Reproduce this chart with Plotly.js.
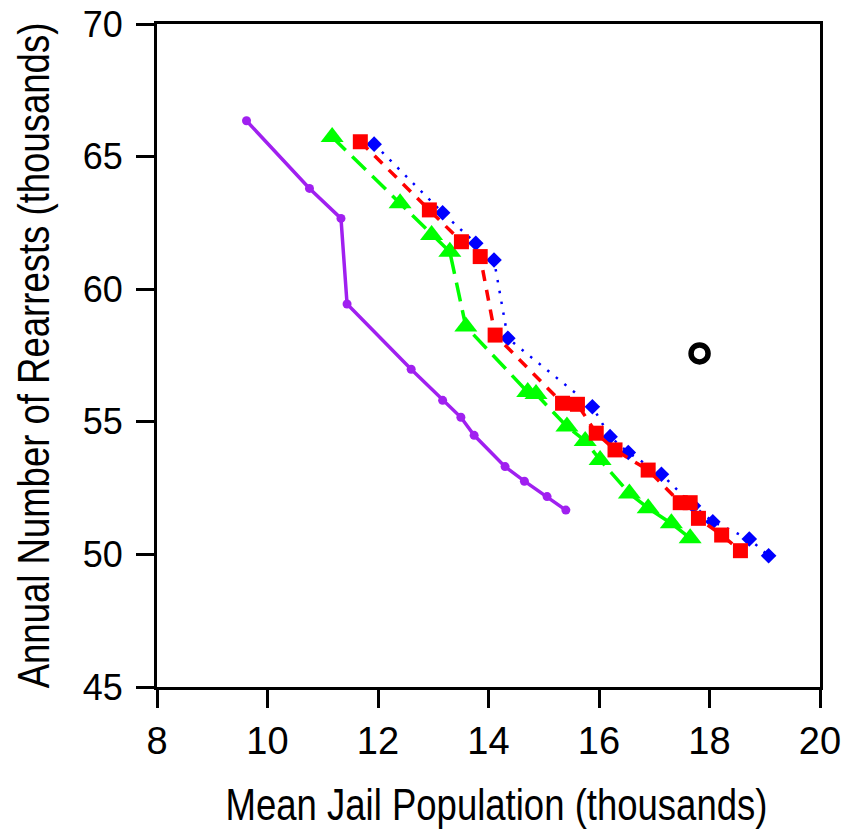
<!DOCTYPE html>
<html>
<head>
<meta charset="utf-8">
<script src="https://cdn.plot.ly/plotly-3.0.1.min.js"></script>
<style>html,body{margin:0;padding:0;background:#fff;}</style>
</head>
<body>
<div id="chart" style="width:844px;height:829px;"></div>
<script>
// Purple series (solid, circles)
const purpleX = [9.62, 10.76, 11.33, 11.44, 12.60, 13.17, 13.50, 13.74, 14.30, 14.65, 15.06, 15.40];
const purpleY = [66.35, 63.80, 62.67, 59.44, 56.98, 55.81, 55.17, 54.49, 53.31, 52.76, 52.18, 51.67];

// Green series (long dash, triangles)
const greenX = [11.17, 12.40, 12.97, 13.30, 13.59, 14.71, 14.86, 15.42, 15.75, 16.02, 16.55, 16.89, 17.31, 17.65];
const greenY = [65.74, 63.24, 62.04, 61.41, 58.59, 56.12, 56.05, 54.82, 54.28, 53.56, 52.30, 51.74, 51.17, 50.61];

// Red series (short dash, squares)
const redX = [11.68, 12.93, 13.51, 13.85, 14.12, 15.34, 15.61, 15.95, 16.29, 16.89, 17.47, 17.65, 17.80, 18.22, 18.56];
const redY = [65.56, 62.99, 61.79, 61.23, 58.27, 55.70, 55.66, 54.57, 53.94, 53.18, 51.95, 51.95, 51.36, 50.73, 50.14];

// Blue series (dotted, diamonds)
const blueX = [11.93, 13.17, 13.77, 14.10, 14.35, 15.88, 16.20, 16.53, 17.13, 17.71, 18.06, 18.72, 19.07];
const blueY = [65.47, 62.88, 61.73, 61.10, 58.15, 55.57, 54.44, 53.84, 53.02, 51.83, 51.23, 50.58, 49.95];

// Single open point
const pointX = [17.82];
const pointY = [57.58];

const xTicks = [8, 10, 12, 14, 16, 18, 20];
const yTicks = [45, 50, 55, 60, 65, 70];

const traces = [
  {x: purpleX, y: purpleY, mode: 'lines+markers', type: 'scatter',
   line: {color: '#a020f0', width: 3.5},
   marker: {symbol: 'circle', size: 9, color: '#a020f0'}},
  {x: greenX, y: greenY, mode: 'lines+markers', type: 'scatter',
   line: {color: '#00ff00', width: 3.5, dash: '19px,9px'},
   marker: {symbol: 'triangle-up', size: 20, color: '#00ff00'}},
  {x: blueX, y: blueY, mode: 'lines+markers', type: 'scatter',
   line: {color: '#0000ff', width: 2.5, dash: '2.5px,8.5px'},
   marker: {symbol: 'diamond', size: 12, color: '#0000ff'}},
  {x: redX, y: redY, mode: 'lines+markers', type: 'scatter',
   line: {color: '#ff0000', width: 3.5, dash: '11px,9px'},
   marker: {symbol: 'square', size: 15, color: '#ff0000'}},
  {x: pointX, y: pointY, mode: 'markers', type: 'scatter',
   marker: {symbol: 'circle-open', size: 17, color: '#000000', line: {width: 5.5, color: '#000000'}}}
];

const layout = {
  width: 844, height: 829,
  margin: {l: 157, r: 24, t: 24, b: 142},
  paper_bgcolor: '#ffffff', plot_bgcolor: '#ffffff',
  showlegend: false,
  xaxis: {
    range: [8, 20], tickvals: xTicks, ticktext: xTicks.map(String),
    showgrid: false, zeroline: false,
    showline: true, linecolor: '#000', linewidth: 3, mirror: true,
    ticks: 'outside', ticklen: 18, tickwidth: 3, tickcolor: '#000',
    tickfont: {family: 'Liberation Sans, Arial, sans-serif', size: 38, color: '#000'},
    title: {text: 'Mean Jail Population (thousands)', standoff: 30,
            font: {family: 'Liberation Sans Narrow, Arial Narrow, Liberation Sans, sans-serif', size: 44, color: '#000'}}
  },
  yaxis: {
    range: [45, 70], tickvals: yTicks, ticktext: yTicks.map(String),
    showgrid: false, zeroline: false,
    showline: true, linecolor: '#000', linewidth: 3, mirror: true,
    ticks: 'outside', ticklen: 18, tickwidth: 3, tickcolor: '#000',
    ticklabelstandoff: 6,
    tickfont: {family: 'Liberation Sans, Arial, sans-serif', size: 36, color: '#000'},
    title: {text: 'Annual Number of Rearrests (thousands)', standoff: 4,
            font: {family: 'Liberation Sans Narrow, Arial Narrow, Liberation Sans, sans-serif', size: 44, color: '#000'}}
  }
};

// Condense the axis titles horizontally (narrow face is not installed)
function condense(sel, k, dx, dy) {
  const el = document.querySelector(sel);
  if (!el) return;
  const x = parseFloat(el.getAttribute('x'));
  const y = parseFloat(el.getAttribute('y'));
  const base = el.getAttribute('transform') || '';
  el.setAttribute('transform',
    `translate(${dx},${dy}) ` + base + ` translate(${x},${y}) scale(${k},1) translate(${-x},${-y})`);
}

Plotly.newPlot('chart', traces, layout, {displayModeBar: false, staticPlot: true}).then(() => {
  condense('.xtitle', 0.83, 8, 0);
  condense('.ytitle', 0.83, -16, 0);
});
</script>
</body>
</html>
